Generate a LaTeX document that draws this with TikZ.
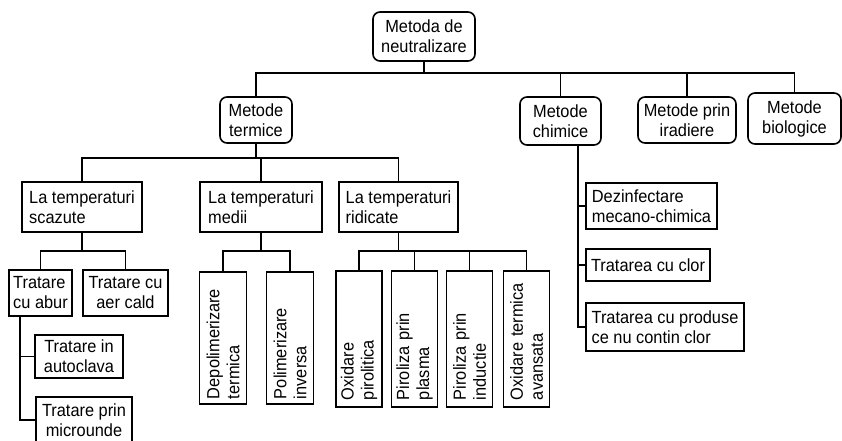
\documentclass[tikz,border=0pt]{standalone}
\usepackage{fontspec}
\setmainfont{Liberation Sans}
\newfontfamily\boxfamily{Liberation Sans}[FakeStretch=0.93]

\begin{document}
\begin{tikzpicture}[x=1pt, y=-1pt]
        % Define box properties
        \def\boxbordercolor{black}   % Black border
        \def\boxborderwidth{1.6pt}
        \def\boxcornerradius{7pt}
        \def\boxfont{\boxfamily\fontsize{17.6}{20}\selectfont}

        \tikzset{
            box/.style={
                draw=\boxbordercolor,
                line width=\boxborderwidth,
                inner sep=2pt,
                font=\boxfont,
                align=center
            },
            roundbox/.style={box, rounded corners=\boxcornerradius},
            leftbox/.style={box, align=left},
            upbox/.style={box, rotate=90, align=left, text width=122pt, minimum height=47pt},
            link/.style={draw=\boxbordercolor, line width=\boxborderwidth}
        }

        % Page size as in the reference
        \useasboundingbox (0,0) rectangle (842,440);

        % Draw the root and the four method groups
        \node[roundbox, minimum width=102pt, minimum height=49pt] (neutralizare) at (424,36.5) {Metoda de\\neutralizare};
        \node[roundbox, minimum width=72pt, minimum height=46pt] (termice) at (256,120) {Metode\\termice};
        \node[roundbox, minimum width=81pt, minimum height=48pt] (chimice) at (560.5,121) {Metode\\chimice};
        \node[roundbox, minimum width=98pt, minimum height=46pt] (iradiere) at (687,120) {Metode prin\\iradiere};
        \node[roundbox, minimum width=93pt, minimum height=51pt] (biologice) at (794.5,118.5) {Metode\\biologice};

        % Thermal methods by temperature
        \node[leftbox, minimum width=120pt, minimum height=50pt] (scazute) at (82,207) {La temperaturi\\scazute};
        \node[leftbox, minimum width=122pt, minimum height=50pt] (medii) at (261,207) {La temperaturi\\medii};
        \node[leftbox, minimum width=119pt, minimum height=50pt] (ridicate) at (398.5,207) {La temperaturi\\ridicate};

        % Low temperature
        \node[leftbox, minimum width=63pt, minimum height=46pt] (abur) at (40.5,293) {Tratare\\cu abur};
        \node[box, minimum width=85pt, minimum height=46pt] (aercald) at (125.5,293) {Tratare cu\\aer cald};
        \node[box, minimum width=88pt, minimum height=43pt] (autoclava) at (79,356.5) {Tratare in\\autoclava};
        \node[box, minimum width=96pt, minimum height=46pt] (microunde) at (84,420) {Tratare prin\\microunde};

        % Medium temperature
        \node[upbox, minimum width=132pt] (depolimerizare) at (223,338) {Depolimerizare\\termica};
        \node[upbox, minimum width=132pt] (polimerizare) at (290,338) {Polimerizare\\inversa};

        % High temperature
        \node[upbox, minimum width=136pt, minimum height=46pt] (pirolitica) at (359,339) {Oxidare\\pirolitica};
        \node[upbox, minimum width=136pt, minimum height=46pt] (plasma) at (414.5,339) {Piroliza prin\\plasma};
        \node[upbox, minimum width=136pt, minimum height=46pt] (inductie) at (469.5,339) {Piroliza prin\\inductie};
        \node[upbox, minimum width=136pt, minimum height=46pt] (avansata) at (526.5,339) {Oxidare termica\\avansata};

        % Chemical methods
        \node[leftbox, minimum width=131pt, minimum height=46pt] (dezinfectare) at (651.5,206) {Dezinfectare\\mecano-chimica};
        \node[leftbox, minimum width=124pt, minimum height=32pt] (clor) at (648,265) {Tratarea cu clor};
        \node[leftbox, minimum width=158pt, minimum height=48pt] (faraclor) at (665,327) {Tratarea cu produse\\ce nu contin clor};

        % Connectors
        \foreach \child in {termice, chimice, iradiere, biologice}
            \draw[link] (neutralizare.south) -- ++(0,11) -| (\child.north);
        \foreach \child in {scazute, medii, ridicate}
            \draw[link] (termice.south) -- ++(0,14) -| (\child.north);
        \foreach \child in {abur, aercald}
            \draw[link] (scazute.south) -- ++(0,18) -| (\child.north);
        \foreach \child in {depolimerizare, polimerizare}
            \draw[link] (medii.south) -- ++(0,18) -| (\child.east);
        \foreach \child in {pirolitica, plasma, inductie, avansata}
            \draw[link] (ridicate.south) -- ++(0,18) -| (\child.east);
        \foreach \child in {autoclava, microunde}
            \draw[link] ([xshift=-20.5pt]abur.south) |- (\child.west);
        \foreach \child in {dezinfectare, clor, faraclor}
            \draw[link] ([xshift=17.5pt]chimice.south) |- (\child.west);
    \end{tikzpicture}
\end{document}
